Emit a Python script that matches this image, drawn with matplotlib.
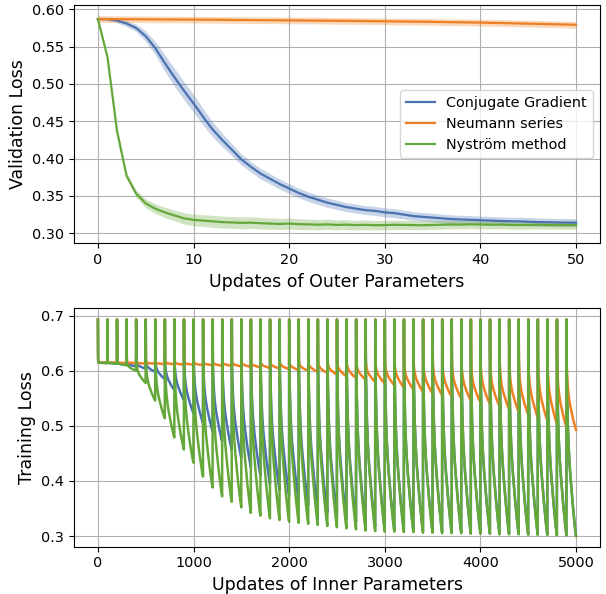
import numpy as np
import matplotlib
matplotlib.use("Agg")
import matplotlib.pyplot as plt

# ---------------- data: top panel (validation loss vs outer updates) ----------------
outer_steps = list(range(51))
labels = ["Conjugate Gradient", "Neumann series", "Nyström method"]
colors = ["#4a72b0", "#ee7f22", "#65a83a"]

cg_val = [0.587, 0.587, 0.585, 0.581, 0.575, 0.564, 0.548, 0.528, 0.509, 0.491,
          0.474, 0.456, 0.439, 0.425, 0.412, 0.399, 0.389, 0.380, 0.373, 0.366,
          0.360, 0.354, 0.349, 0.345, 0.341, 0.338, 0.335, 0.333, 0.331, 0.330,
          0.328, 0.327, 0.325, 0.323, 0.322, 0.321, 0.320, 0.319, 0.3185, 0.318,
          0.3175, 0.317, 0.3165, 0.3162, 0.316, 0.3155, 0.315, 0.3148, 0.3145, 0.3143,
          0.3142]
cg_std = [0.001, 0.002, 0.003, 0.004, 0.005, 0.007, 0.009, 0.011, 0.012, 0.012,
          0.012, 0.011, 0.010, 0.009, 0.008, 0.0075, 0.007, 0.007, 0.0068, 0.0067,
          0.0066, 0.0065, 0.0064, 0.0063, 0.0062, 0.0062, 0.0061, 0.006, 0.006, 0.006,
          0.006, 0.006, 0.0059, 0.0059, 0.0058, 0.0058, 0.0057, 0.0057, 0.0056, 0.0056,
          0.0056, 0.0055, 0.0055, 0.0055, 0.0055, 0.0055, 0.0055, 0.0055, 0.0055, 0.0055,
          0.0055]
ns_val = [0.5870, 0.5869, 0.5868, 0.5867, 0.5867, 0.5866, 0.5865, 0.5864, 0.5864, 0.5863,
          0.5862, 0.5861, 0.5860, 0.5859, 0.5858, 0.5857, 0.5856, 0.5855, 0.5854, 0.5853,
          0.5852, 0.5851, 0.5850, 0.5849, 0.5848, 0.5846, 0.5845, 0.5844, 0.5843, 0.5841,
          0.5840, 0.5838, 0.5837, 0.5835, 0.5834, 0.5832, 0.5830, 0.5828, 0.5826, 0.5824,
          0.5822, 0.5819, 0.5817, 0.5814, 0.5811, 0.5808, 0.5805, 0.5802, 0.5799, 0.5796,
          0.5793]
ns_std = [0.0045] * 51
ny_val = [0.587, 0.536, 0.437, 0.377, 0.353, 0.340, 0.333, 0.328, 0.324, 0.320,
          0.318, 0.317, 0.316, 0.315, 0.3145, 0.3140, 0.3142, 0.3135, 0.3130, 0.3125,
          0.3130, 0.3122, 0.3120, 0.3115, 0.3120, 0.3112, 0.3116, 0.3110, 0.3113, 0.3108,
          0.3110, 0.3114, 0.3112, 0.3110, 0.3108, 0.3112, 0.3115, 0.3118, 0.3116, 0.3120,
          0.3118, 0.3115, 0.3117, 0.3113, 0.3110, 0.3112, 0.3114, 0.3110, 0.3111, 0.3110,
          0.3110]
ny_std = [0.001, 0.002, 0.003, 0.004, 0.005, 0.006, 0.0065, 0.007, 0.0072, 0.0075,
          0.0078, 0.008, 0.008, 0.008, 0.008, 0.008, 0.0078, 0.0078, 0.0076, 0.0075,
          0.0074, 0.0072, 0.007, 0.007, 0.0068, 0.0067, 0.0066, 0.0065, 0.0064, 0.0063,
          0.0062, 0.0062, 0.0061, 0.006, 0.006, 0.006, 0.0059, 0.0059, 0.0058, 0.0058,
          0.0058, 0.0057, 0.0057, 0.0057, 0.0056, 0.0056, 0.0056, 0.0055, 0.0055, 0.0055,
          0.0055]

# ---------------- data: bottom panel (training loss vs inner updates) ----------------
steps_per_outer = 100
start_loss = 0.693      # loss right after re-initialisation
plateau_loss = 0.615    # level reached after the first few inner steps
# within-cycle profile
cycle_offsets = [0, 1, 2, 3, 5, 8, 13, 20, 30, 40, 53, 65, 77, 88, 99]
fast_part = [1.0, 0.35, 0.12, 0.04, 0.0, 0.0, 0.0, 0.0, 0.0, 0.0, 0.0, 0.0, 0.0, 0.0, 0.0]
slow_part = [1.0, 0.97, 0.94, 0.91, 0.85, 0.77, 0.65, 0.54, 0.43, 0.35, 0.26, 0.18, 0.11, 0.05, 0.0]

# end-of-cycle training loss for each of the 50 outer updates
cg_end = [0.614, 0.613, 0.611, 0.608, 0.604, 0.598, 0.585, 0.565, 0.547, 0.523,
          0.505, 0.490, 0.472, 0.457, 0.442, 0.425, 0.410, 0.395, 0.384, 0.374,
          0.365, 0.357, 0.350, 0.343, 0.337, 0.331, 0.326, 0.321, 0.317, 0.314,
          0.312, 0.311, 0.310, 0.309, 0.308, 0.308, 0.307, 0.307, 0.306, 0.306,
          0.305, 0.305, 0.305, 0.304, 0.304, 0.303, 0.303, 0.302, 0.302, 0.301]
ns_end = [0.615, 0.615, 0.614, 0.614, 0.613, 0.613, 0.612, 0.612, 0.611, 0.611,
          0.610, 0.610, 0.609, 0.609, 0.608, 0.607, 0.606, 0.605, 0.604, 0.603,
          0.601, 0.600, 0.598, 0.596, 0.593, 0.590, 0.587, 0.584, 0.580, 0.577,
          0.574, 0.570, 0.566, 0.562, 0.559, 0.556, 0.553, 0.550, 0.546, 0.543,
          0.540, 0.536, 0.531, 0.526, 0.521, 0.516, 0.510, 0.504, 0.498, 0.493]
ny_end = [0.614, 0.613, 0.610, 0.600, 0.578, 0.546, 0.514, 0.479, 0.457, 0.433,
          0.408, 0.388, 0.372, 0.362, 0.352, 0.342, 0.337, 0.332, 0.329, 0.326,
          0.324, 0.322, 0.320, 0.318, 0.316, 0.314, 0.312, 0.310, 0.309, 0.308,
          0.308, 0.307, 0.307, 0.306, 0.306, 0.305, 0.305, 0.305, 0.304, 0.304,
          0.304, 0.303, 0.303, 0.303, 0.302, 0.302, 0.302, 0.301, 0.301, 0.300]


def build_curve(ends):
    xs, ys = [], []
    off = np.array(cycle_offsets)
    fp = np.array(fast_part)
    sp = np.array(slow_part)
    for c, e in enumerate(ends):
        xs.append(c * steps_per_outer + off)
        ys.append(e + (plateau_loss - e) * sp + (start_loss - plateau_loss) * fp)
    return np.concatenate(xs), np.concatenate(ys)


W, H = 606, 594
fig = plt.figure(figsize=(W / 100, H / 100), dpi=100)
ax1 = fig.add_axes([74 / W, 1 - 243.3 / H, 526 / W, 238.6 / H])
ax2 = fig.add_axes([74 / W, 1 - 546.7 / H, 526 / W, 238.4 / H])

LABEL_FS = 12.5
TICK_FS = 10.4

# top panel
x = np.array(outer_steps)
for val, std, lab, col in zip([cg_val, ns_val, ny_val], [cg_std, ns_std, ny_std], labels, colors):
    v = np.array(val); s = np.array(std)
    ax1.fill_between(x, v - s, v + s, color=col, alpha=0.3, linewidth=0)
    ax1.plot(x, v, color=col, lw=1.6, label=lab)
ax1.set_xlim(-2.5, 52.5)
ax1.set_ylim(0.2866, 0.6062)
ax1.set_yticks([0.30, 0.35, 0.40, 0.45, 0.50, 0.55, 0.60])
ax1.set_yticklabels(["0.30", "0.35", "0.40", "0.45", "0.50", "0.55", "0.60"])
ax1.set_xticks([0, 10, 20, 30, 40, 50])
ax1.grid(True, color="#b0b0b0", lw=0.8)
ax1.set_axisbelow(True)
ax1.set_xlabel("Updates of Outer Parameters", fontsize=LABEL_FS)
ax1.set_ylabel("Validation Loss", fontsize=LABEL_FS)
ax1.legend(loc="center right", fontsize=TICK_FS)
ax1.tick_params(labelsize=TICK_FS)

# bottom panel
for ends, lab, col in zip([cg_end, ns_end, ny_end], labels, colors):
    bx, by = build_curve(ends)
    ax2.plot(bx, by, color=col, lw=1.8, label=lab)
ax2.set_xlim(-250, 5250)
ax2.set_ylim(0.2806, 0.7134)
ax2.set_yticks([0.3, 0.4, 0.5, 0.6, 0.7])
ax2.set_xticks([0, 1000, 2000, 3000, 4000, 5000])
ax2.grid(True, color="#b0b0b0", lw=0.8)
ax2.set_axisbelow(True)
ax2.set_xlabel("Updates of Inner Parameters", fontsize=LABEL_FS)
ax2.set_ylabel("Training Loss", fontsize=LABEL_FS)
ax2.tick_params(labelsize=TICK_FS)

fig.savefig("out.png", dpi=100)
